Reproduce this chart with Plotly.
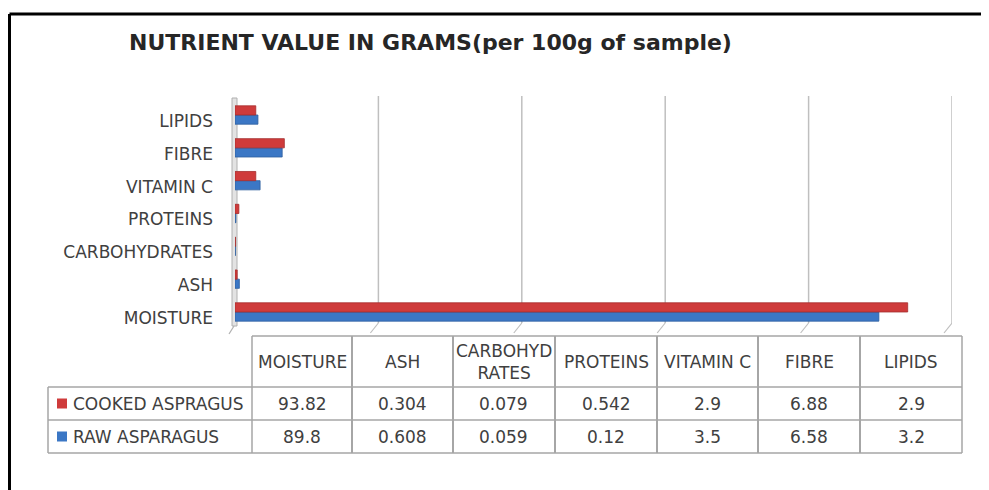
import plotly.graph_objects as go

# ---------------- data ----------------
categories = ["MOISTURE", "ASH", "CARBOHYDRATES", "PROTEINS", "VITAMIN C", "FIBRE", "LIPIDS"]
table_headers = ["MOISTURE", "ASH", "CARBOHYD<br>RATES", "PROTEINS", "VITAMIN C", "FIBRE", "LIPIDS"]
cooked = [93.82, 0.304, 0.079, 0.542, 2.9, 6.88, 2.9]
raw = [89.8, 0.608, 0.059, 0.12, 3.5, 6.58, 3.2]
series_names = ["COOKED ASPRAGUS", "RAW ASPARAGUS"]
x_ticks = [0, 20, 40, 60, 80, 100]
title = "NUTRIENT VALUE IN GRAMS(per 100g of sample)"

# ---------------- styles ----------------
W, H = 989, 490
RED = "#CF3B3B"
BLUE = "#3B77C5"
TXT = "#404040"
FONT = "DejaVu Sans"
GRID = "#BFBFBF"
TBL = "#A6A6A6"
PAGE_OFF = 8  # default page margin of the html body

def px(x):
    return (x - PAGE_OFF) / W

def py(y):
    return 1 - (y - PAGE_OFF) / H

# plot area (pixels in the screenshot)
X0, X1 = 235, 952
Y_TOP, Y_BOT = 98.6, 328.4

fig = go.Figure()
fig.add_trace(go.Bar(y=categories, x=raw, name=series_names[1], orientation="h",
                     marker=dict(color=BLUE, line=dict(color="#2E5F9E", width=0.8))))
fig.add_trace(go.Bar(y=categories, x=cooked, name=series_names[0], orientation="h",
                     marker=dict(color=RED, line=dict(color="#A52D2D", width=0.8))))

shapes = []
annotations = []

# outer frame
shapes.append(dict(type="line", xref="paper", yref="paper", x0=px(9.5), x1=px(1000), y0=py(14), y1=py(14),
                   line=dict(color="black", width=3)))
shapes.append(dict(type="line", xref="paper", yref="paper", x0=px(9.5), x1=px(9.5), y0=py(14), y1=py(500),
                   line=dict(color="black", width=3)))

# gridlines with 3D slant at bottom
slant = 8 / (X1 - X0) * (x_ticks[-1] - x_ticks[0])
for v in x_ticks[1:]:
    shapes.append(dict(type="line", xref="x", yref="paper", x0=v, x1=v, y0=py(96), y1=py(323),
                       line=dict(color=GRID, width=1.5), layer="below"))
    shapes.append(dict(type="line", xref="x", yref="paper", x0=v, x1=v - slant, y0=py(323), y1=py(333),
                       line=dict(color=GRID, width=1.2), layer="below"))

# left wall of the 3D plot
shapes.append(dict(type="rect", xref="paper", yref="paper", x0=px(232), x1=px(237), y0=py(326), y1=py(98),
                   fillcolor="#E3E3E3", line=dict(color="#B0B0B0", width=1), layer="below"))
shapes.append(dict(type="line", xref="paper", yref="paper", x0=px(234), x1=px(229), y0=py(326), y1=py(334),
                   line=dict(color="#B0B0B0", width=1.2), layer="below"))

# ---------------- data table ----------------
col_edges = [252, 352, 453, 555, 657, 758, 860, 962]
row_edges = [336, 387, 420, 453]
LEG_X = 48

def hline(y, xa, xb):
    shapes.append(dict(type="line", xref="paper", yref="paper", x0=px(xa), x1=px(xb), y0=py(y), y1=py(y),
                       line=dict(color=TBL, width=1.5)))

def vline(x, ya, yb, w=1.5):
    shapes.append(dict(type="line", xref="paper", yref="paper", x0=px(x), x1=px(x), y0=py(ya), y1=py(yb),
                       line=dict(color=TBL, width=w)))

hline(row_edges[0], col_edges[0], col_edges[-1])
for y in row_edges[1:]:
    hline(y, LEG_X, col_edges[-1])
vline(LEG_X, row_edges[1], row_edges[-1])
for i, x in enumerate(col_edges):
    vline(x, row_edges[0], row_edges[-1], 1.5 if i in (0, len(col_edges) - 1) else 2)

TFS = 17
for i, h in enumerate(table_headers):
    cx = (col_edges[i] + col_edges[i + 1]) / 2
    annotations.append(dict(xref="paper", yref="paper", x=px(cx), y=py((row_edges[0] + row_edges[1]) / 2),
                            text=h, showarrow=False, xanchor="center", yanchor="middle",
                            font=dict(family=FONT, size=TFS, color=TXT)))

rows = [(series_names[0], cooked, RED), (series_names[1], raw, BLUE)]
for r, (name, vals, col) in enumerate(rows):
    ya, yb = row_edges[r + 1], row_edges[r + 2]
    cy = (ya + yb) / 2
    shapes.append(dict(type="rect", xref="paper", yref="paper", x0=px(57), x1=px(67), y0=py(cy + 5), y1=py(cy - 5),
                       fillcolor=col, line=dict(width=0)))
    annotations.append(dict(xref="paper", yref="paper", x=px(71), y=py(cy), text=name, showarrow=False,
                            xanchor="left", yanchor="middle", font=dict(family=FONT, size=TFS, color=TXT)))
    for i, v in enumerate(vals):
        cx = (col_edges[i] + col_edges[i + 1]) / 2
        annotations.append(dict(xref="paper", yref="paper", x=px(cx), y=py(cy), text=str(v), showarrow=False,
                                xanchor="center", yanchor="middle", font=dict(family=FONT, size=TFS, color=TXT)))

# title
annotations.append(dict(xref="paper", yref="paper", x=px(430), y=py(43), text="<b>" + title + "</b>",
                        showarrow=False, xanchor="center", yanchor="middle",
                        font=dict(family=FONT, size=22, color="#262626")))

fig.update_layout(
    width=W, height=H,
    margin=dict(l=0, r=0, t=0, b=0),
    paper_bgcolor="white", plot_bgcolor="rgba(0,0,0,0)",
    showlegend=False,
    barmode="group", bargap=0.44, bargroupgap=0,
    xaxis=dict(domain=[px(X0), px(X1)], range=[x_ticks[0], x_ticks[-1]], showticklabels=False,
               showgrid=False, zeroline=False, showline=False, fixedrange=True),
    yaxis=dict(domain=[py(Y_BOT), py(Y_TOP)], type="category", categoryorder="array",
               categoryarray=categories, range=[-0.5, len(categories) - 0.5],
               showgrid=False, zeroline=False, showline=False, ticks="",
               tickfont=dict(family=FONT, size=17, color=TXT), ticklabelstandoff=21, ticklabelshift=6),
    shapes=shapes,
    annotations=annotations,
)

fig.write_html("out.html")
